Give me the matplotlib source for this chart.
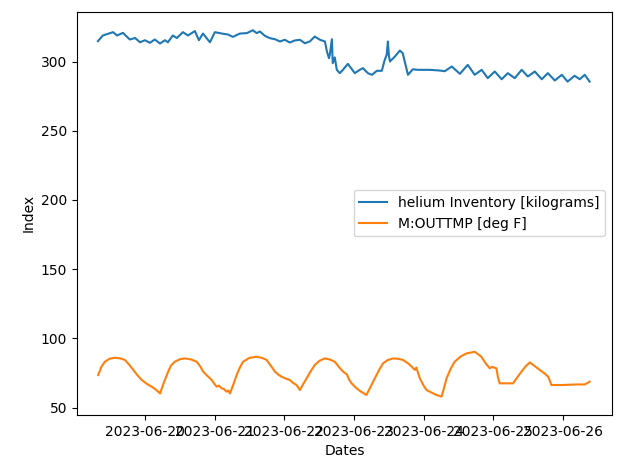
import numpy as np
import pandas as pd
import matplotlib
matplotlib.use("Agg")
import matplotlib.pyplot as plt

# readings, hours since 2023-06-19 00:00
start = pd.Timestamp("2023-06-19 00:00")

he_hours = [7.8, 9.5, 13.0, 14.4, 16.4, 18.8, 20.6, 22.3, 24.0, 25.7, 27.4, 29.2,
            30.9, 31.9, 33.6, 35.0, 37.1, 38.8, 41.2, 42.6, 44.0, 46.4, 48.1, 50.5,
            52.6, 54.3, 56.7, 59.1, 61.2, 62.5, 63.6, 65.3, 67.0, 68.8, 70.5, 72.2,
            73.9, 75.6, 77.4, 79.1, 80.8, 82.5, 84.3, 86.0, 86.7, 87.4, 87.7, 88.4,
            88.7, 89.4, 90.1, 91.1, 92.2, 93.9, 95.3, 96.3, 98.0, 99.1, 100.8, 102.2,
            103.9, 105.6, 106.6, 107.3, 107.7, 108.0, 108.4, 110.1, 111.8, 112.8,
            114.2, 114.6, 116.3, 118.0, 120.4, 122.1, 125.6, 127.3, 129.7, 132.5,
            135.2, 137.6, 140.0, 142.1, 144.5, 146.9, 149.0, 151.4, 153.8, 155.9,
            158.3, 160.7, 162.8, 165.2, 167.6, 169.6, 172.0, 173.8, 175.5, 177.2]
he_vals = [314.7, 318.8, 321.2, 318.8, 320.7, 315.9, 317.0, 313.9, 315.4, 313.5, 315.9, 313.0,
           315.4, 313.9, 318.8, 317.0, 321.2, 318.8, 322.0, 315.4, 320.2, 313.9, 321.2, 320.2,
           319.5, 317.8, 320.2, 320.5, 322.6, 320.5, 321.7, 318.6, 316.9, 316.1, 314.5, 315.7,
           313.7, 315.2, 315.7, 313.2, 314.5, 318.0, 315.7, 314.5, 307.2, 302.4, 305.0, 316.1,
           298.8, 303.0, 294.0, 291.6, 294.0, 298.3, 294.4, 291.6, 294.0, 295.2, 291.6, 290.4,
           293.3, 293.3, 301.2, 305.0, 314.5, 305.0, 300.0, 303.6, 307.9, 306.0,
           294.0, 290.4, 294.4, 294.0, 294.0, 294.0, 293.5, 293.0, 296.4, 291.1,
           297.6, 290.4, 294.0, 288.0, 292.8, 287.2, 291.6, 288.0, 294.0, 289.2,
           292.8, 287.2, 291.6, 286.3, 290.4, 285.5, 289.7, 287.2, 290.4, 285.5]

tmp_hours = [7.9, 9.0, 10.2, 11.8, 13.7, 15.5, 17.1, 18.6, 20.0, 21.5, 22.9, 24.6,
             26.3, 27.8, 29.2,
             30.5, 32.0, 33.0, 34.3, 36.0, 37.8, 40.0, 41.8, 43.0, 44.1, 45.5, 47.0,
             48.0, 48.7, 49.5, 50.4, 51.2, 52.1, 52.6, 53.3,
             54.5, 55.6, 56.7, 57.8, 60.0, 62.5, 64.3, 65.9, 67.3, 68.8, 70.0, 71.1,
             72.5, 73.9, 75.0, 76.2, 77.4,
             78.5, 79.7, 81.0, 82.5, 84.2, 86.0, 87.7, 89.4, 91.0, 92.3, 93.6, 94.4,
             95.2, 96.9, 98.5, 100.3,
             101.7, 103.2, 104.6, 106.0, 107.7, 109.5, 111.2, 112.9, 115.0, 117.0,
             117.5, 118.7, 120.0, 121.0, 122.1, 124.4, 126.2,
             127.0, 127.9, 129.3, 130.7, 132.8, 134.8, 137.6, 139.9, 141.4, 142.8,
             143.5, 145.1, 145.6, 146.2, 150.8, 152.3, 153.7, 155.2, 156.6, 158.3,
             160.0, 161.5, 162.9, 163.4, 164.0, 168.0, 172.6, 175.5, 177.2]
tmp_vals = [73.6, 79.5, 83.2, 85.4, 86.1, 85.6, 84.5, 81.0, 77.3, 73.2, 70.0, 67.3,
            65.2, 63.0, 60.3,
            68.0, 76.0, 80.5, 83.2, 85.0, 85.6, 84.8, 83.2, 80.0, 76.0, 73.0, 70.0,
            67.0, 65.2, 66.0, 64.0, 63.5, 61.6, 62.5, 60.3,
            67.0, 73.6, 79.0, 83.2, 86.0, 86.8, 86.0, 84.5, 80.5, 76.0, 73.8, 72.4,
            71.0, 70.0, 68.0, 66.4, 62.8,
            67.0, 71.2, 76.0, 80.8, 84.0, 85.6, 84.8, 83.2, 79.0, 76.0, 74.0, 70.0,
            67.6, 64.0, 61.5, 59.2,
            65.0, 71.2, 77.0, 82.0, 84.5, 85.6, 85.3, 84.5, 81.5, 77.3,
            79.0, 71.2, 66.0, 62.8, 61.6, 59.2, 58.0,
            64.0, 71.2, 78.0, 83.2, 87.0, 89.2, 90.4, 86.8, 82.0, 78.4,
            79.5, 78.4, 72.0, 67.6, 67.6, 72.0, 76.0, 80.0, 82.7, 80.0,
            77.3, 75.0, 72.4, 70.0, 66.4, 66.4, 66.8, 66.8, 68.8]

he_dates = start + pd.to_timedelta(he_hours, unit="h")
tmp_dates = start + pd.to_timedelta(tmp_hours, unit="h")

fig, ax = plt.subplots(figsize=(6.19, 4.58), dpi=100)
fig.subplots_adjust(left=0.1244, right=0.9887, top=0.974, bottom=0.094)

ax.plot(he_dates, he_vals, label="helium Inventory [kilograms]")
ax.plot(tmp_dates, tmp_vals, label="M:OUTTMP [deg F]")
ax.set_xlim(start + pd.Timedelta(hours=0.6), start + pd.Timedelta(hours=184.9))
ax.set_xlabel("Dates")
ax.set_ylabel("Index")
ax.legend(loc="center right")

fig.savefig("out.png", dpi=100)
